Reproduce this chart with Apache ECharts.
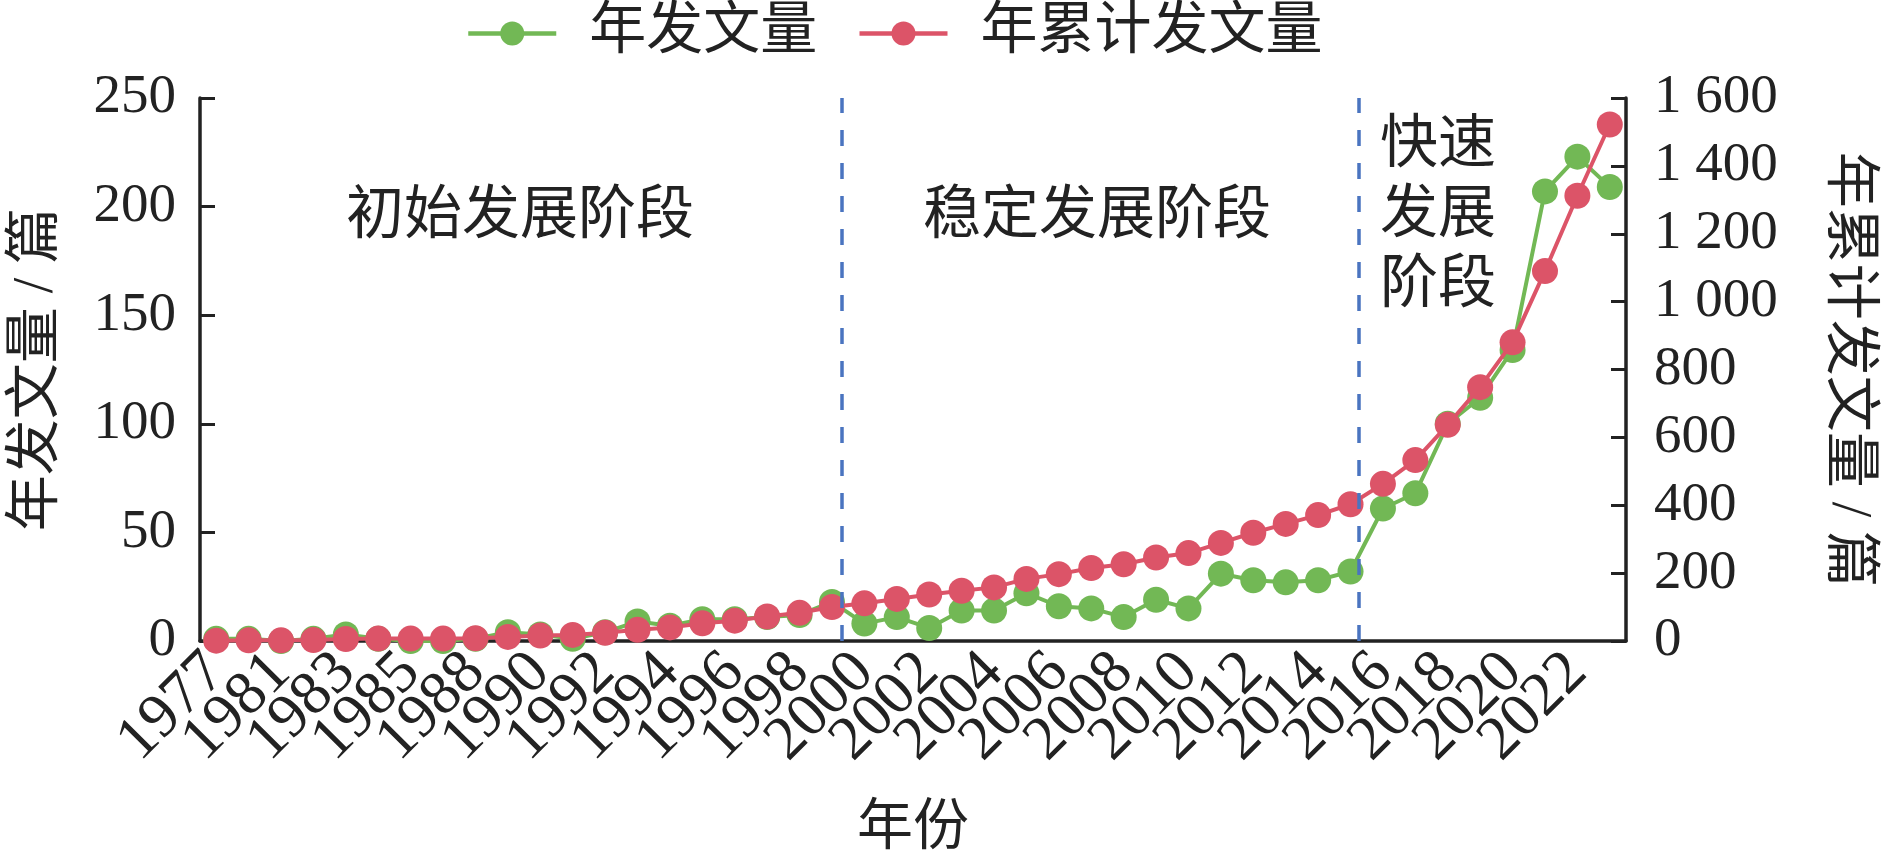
<!DOCTYPE html>
<html>
<head>
<meta charset="utf-8">
<script src="https://cdn.jsdelivr.net/npm/echarts@6/dist/echarts.min.js"></script>
<style>
  html, body { margin: 0; padding: 0; background: #fff; }
  #main { width: 1890px; height: 866px; }
</style>
</head>
<body>
<div id="main"></div>
<script>
var chartDom = document.getElementById('main');
var myChart = echarts.init(chartDom);
var option;

// 年份（类目）
var years = ['1977', '1979', '1981', '1982', '1983', '1984', '1985', '1986', '1988', '1989',
  '1990', '1991', '1992', '1993', '1994', '1995', '1996', '1997', '1998', '1999',
  '2000', '2001', '2002', '2003', '2004', '2005', '2006', '2007', '2008', '2009',
  '2010', '2011', '2012', '2013', '2014', '2015', '2016', '2017', '2018', '2019',
  '2020', '2021', '2022', '2023'];
// 年发文量
var yearCount = [1, 1, 0, 1, 3, 1, 0, 0, 1, 4,
  3, 1, 4, 9, 7, 10, 10, 11, 12, 18,
  8, 11, 6, 14, 14, 22, 16, 15, 11, 19,
  15, 31, 28, 27, 28, 32, 61, 68, 100, 112,
  134, 207, 223, 209];
// 年累计发文量
var totalCount = [1, 2, 2, 3, 6, 7, 7, 7, 8, 12,
  16, 18, 24, 33, 40, 52, 60, 72, 83, 100,
  111, 124, 137, 148, 158, 183, 197, 215, 226, 246,
  259, 289, 319, 345, 371, 403, 463, 533, 637, 748,
  880, 1090, 1312, 1522];
// 阶段分界（以类目序号计）
var stageBreaks = [19.8, 35.75];
var stageNames = ['初始发展阶段', '稳定发展阶段', '快速\n发展\n阶段'];

var FONT = "'Liberation Serif', 'Noto Sans CJK SC', serif";
var INK = '#222';

function spaced(v) {
  return String(v).replace(/\B(?=(\d{3})+(?!\d))/g, ' ');
}

option = {
  textStyle: { fontFamily: FONT },
  legend: {
    data: ['年发文量', '年累计发文量'],
    top: 0,
    left: 461,
    itemWidth: 88,
    itemHeight: 30,
    itemGap: 40,
    lineStyle: { width: 4.5 },
    textStyle: { fontSize: 57, color: INK, fontFamily: FONT, padding: [0, 0, 0, 28] }
  },
  grid: { left: 200, right: 264, top: 98, bottom: 225 },
  xAxis: [
    {
      type: 'category',
      data: years,
      boundaryGap: true,
      name: '年份',
      nameLocation: 'middle',
      nameGap: 160,
      nameTextStyle: { fontSize: 56, color: INK, fontFamily: FONT },
      axisLine: { lineStyle: { color: INK, width: 3.5 } },
      axisTick: { inside: true, length: 15, interval: 1, lineStyle: { color: INK, width: 3 } },
      axisLabel: {
        interval: 0, rotate: 45, fontSize: 62, color: INK, margin: 22, fontFamily: FONT,
        formatter: function (v, i) { return i % 2 === 0 ? v : ''; }
      }
    },
    {
      type: 'value',
      min: 0,
      max: 44,
      show: false
    }
  ],
  yAxis: [
    {
      type: 'value',
      min: 0,
      max: 250,
      interval: 50,
      name: '年发文量 / 篇',
      nameLocation: 'middle',
      nameGap: 135,
      nameTextStyle: { fontSize: 56, color: INK, fontFamily: FONT },
      axisLine: { show: true, lineStyle: { color: INK, width: 3.5 } },
      axisTick: { show: true, inside: true, length: 15, lineStyle: { color: INK, width: 3 } },
      axisLabel: { fontSize: 55, color: INK, margin: 24, fontFamily: FONT, showMinLabel: true },
      splitLine: { show: false }
    },
    {
      type: 'value',
      min: 0,
      max: 1600,
      interval: 200,
      position: 'right',
      name: '年累计发文量 / 篇',
      nameLocation: 'middle',
      nameGap: 194,
      nameRotate: -90,
      nameTextStyle: { fontSize: 56, color: INK, fontFamily: FONT },
      axisLine: { show: true, lineStyle: { color: INK, width: 3.5 } },
      axisTick: { show: true, inside: true, length: 15, lineStyle: { color: INK, width: 3 } },
      axisLabel: { fontSize: 55, color: INK, margin: 28, fontFamily: FONT, formatter: spaced, showMinLabel: true },
      splitLine: { show: false }
    }
  ],
  series: [
    {
      name: '年发文量',
      type: 'line',
      xAxisIndex: 0,
      yAxisIndex: 0,
      data: yearCount,
      symbol: 'circle',
      symbolSize: 26,
      showAllSymbol: true,
      itemStyle: { color: '#72b855' },
      lineStyle: { color: '#72b855', width: 4 },
      z: 2
    },
    {
      name: '年累计发文量',
      type: 'line',
      xAxisIndex: 0,
      yAxisIndex: 1,
      data: totalCount,
      symbol: 'circle',
      symbolSize: 26,
      showAllSymbol: true,
      itemStyle: { color: '#dc5468' },
      lineStyle: { color: '#dc5468', width: 4 },
      z: 3
    },
    {
      name: 'stage',
      type: 'line',
      xAxisIndex: 1,
      yAxisIndex: 0,
      data: [],
      markLine: {
        silent: true,
        symbol: 'none',
        label: { show: false },
        lineStyle: { color: '#4a74c0', width: 3.5, type: [16, 17] },
        data: stageBreaks.map(function (b) { return { xAxis: b }; })
      }
    }
  ],
  graphic: [
    {
      type: 'text', x: 520, y: 218,
      style: { text: stageNames[0], fontSize: 58, fontFamily: FONT, fill: INK, align: 'center', verticalAlign: 'middle' }
    },
    {
      type: 'text', x: 1097, y: 218,
      style: { text: stageNames[1], fontSize: 58, fontFamily: FONT, fill: INK, align: 'center', verticalAlign: 'middle' }
    },
    {
      type: 'text', x: 1438, y: 217,
      style: { text: stageNames[2], fontSize: 58, lineHeight: 70, fontFamily: FONT, fill: INK, align: 'center', verticalAlign: 'middle' }
    }
  ]
};

option && myChart.setOption(option);
</script>
</body>
</html>
